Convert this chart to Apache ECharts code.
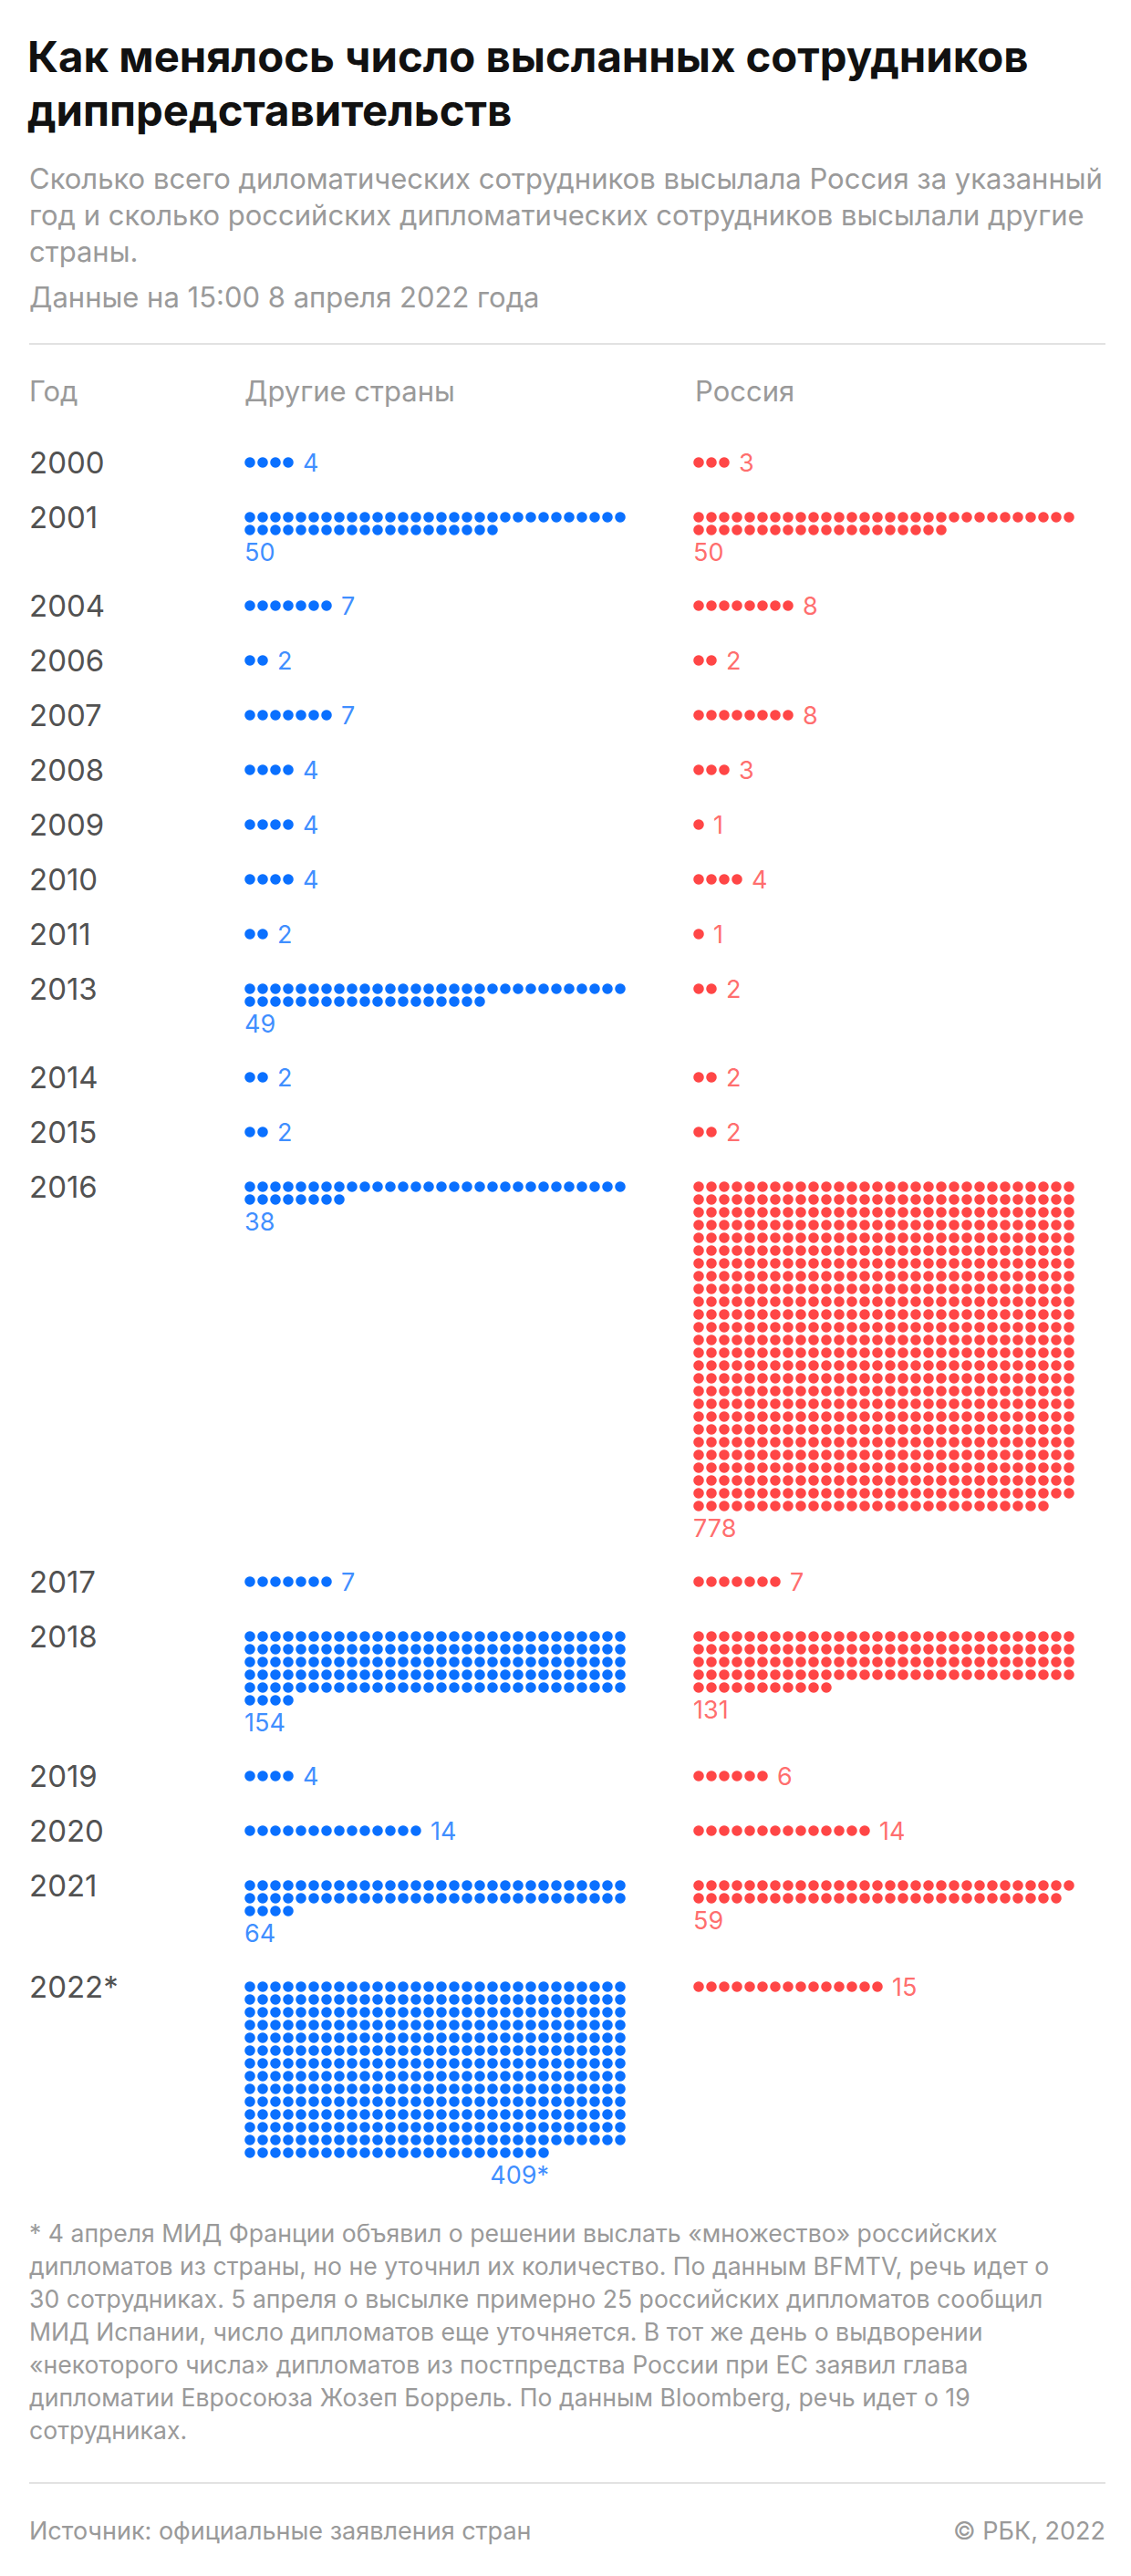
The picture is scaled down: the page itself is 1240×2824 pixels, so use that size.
<!DOCTYPE html>
<html>
<head>
<meta charset="utf-8">
<script src="https://cdn.jsdelivr.net/npm/echarts@6/dist/echarts.min.js"></script>
<style>
html,body{margin:0;padding:0;background:#fff;}
#chart{width:1240px;height:2824px;}
</style>
</head>
<body>
<div id="chart"></div>
<script>
// ---------- data ----------
const years = ['2000','2001','2004','2006','2007','2008','2009','2010','2011','2013','2014','2015','2016','2017','2018','2019','2020','2021','2022*'];
const otherCountries = [4, 50, 7, 2, 7, 4, 4, 4, 2, 49, 2, 2, 38, 7, 154, 4, 14, 64, 409];
// number of dots actually drawn in the reference (2022 shows 13 full rows + 24)
const otherDotCounts = [4, 50, 7, 2, 7, 4, 4, 4, 2, 49, 2, 2, 38, 7, 154, 4, 14, 64, 414];
const otherLabels = ['4','50','7','2','7','4','4','4','2','49','2','2','38','7','154','4','14','64','409*'];
const russia = [3, 50, 8, 2, 8, 3, 1, 4, 1, 2, 2, 2, 778, 7, 131, 6, 14, 59, 15];
const russiaLabels = russia.map(String);

const titleLines = ['Как менялось число высланных сотрудников', 'диппредставительств'];
const subtitleLines = [
  'Сколько всего диломатических сотрудников высылала Россия за указанный',
  'год и сколько российских дипломатических сотрудников высылали другие',
  'страны.'
];
const dateLine = 'Данные на 15:00 8 апреля 2022 года';
const headers = ['Год', 'Другие страны', 'Россия'];
const footnoteLines = [
  '* 4 апреля МИД Франции объявил о решении выслать «множество» российских',
  'дипломатов из страны, но не уточнил их количество. По данным BFMTV, речь идет о',
  '30 сотрудниках. 5 апреля о высылке примерно 25 российских дипломатов сообщил',
  'МИД Испании, число дипломатов еще уточняется. В тот же день о выдворении',
  '«некоторого числа» дипломатов из постпредства России при ЕС заявил глава',
  'дипломатии Евросоюза Жозеп Боррель. По данным Bloomberg, речь идет о 19',
  'сотрудниках.'
];
const sourceText = 'Источник: официальные заявления стран';
const copyrightText = '© РБК, 2022';

// ---------- layout ----------
const W = 1240, H = 2824;
const PER_ROW = 30, ROW_PITCH = 14, BLOCK = 60, LABEL_GAP = 23, FIRST_ROW = 507, LABEL_BELOW = 24.5;
const BLUE = '#0a70ff', RED = '#ff4646', FONT = 'Inter, "Noto Sans", sans-serif';
const GRAY = '#9a9a9a';

const rowsOf = n => Math.ceil(n / PER_ROW);
const rowY = [];
let cur = FIRST_ROW;
years.forEach((y, i) => {
  rowY.push(cur);
  const rows = Math.max(rowsOf(otherDotCounts[i]), rowsOf(russia[i]));
  cur += BLOCK + (rows > 1 ? (rows - 1) * ROW_PITCH + LABEL_GAP : 0);
});

function dots(counts) {
  const out = [];
  counts.forEach((n, i) => {
    for (let k = 0; k < n; k++) out.push([k % PER_ROW, rowY[i] + Math.floor(k / PER_ROW) * ROW_PITCH]);
  });
  return out;
}
function labels(counts, texts) {
  return counts.map((n, i) => {
    const rows = rowsOf(n);
    const lastCol = (n - 1) % PER_ROW;
    if (rows === 1) {
      return { value: [lastCol, rowY[i]], label: { formatter: texts[i], position: 'right', distance: 16 } };
    }
    const yy = rowY[i] + (rows - 1) * ROW_PITCH + LABEL_BELOW;
    if (texts[i].indexOf('*') >= 0) {
      return { value: [lastCol, yy], label: { formatter: texts[i], position: 'inside', align: 'right', offset: [6, 0] } };
    }
    return { value: [0, yy], label: { formatter: texts[i], position: 'inside', align: 'left', offset: [-6, 0] } };
  });
}

const valueLabelStyle = c => ({ show: true, color: c, fontSize: 27, fontFamily: FONT, verticalAlign: 'middle' });

const yAxisBase = { type: 'value', min: 0, max: H, inverse: true, show: false };
const xAxisBase = { type: 'value', min: 0, max: PER_ROW - 1, show: false };

const txt = (text, x, y, size, color, opts) => ({
  type: 'text', silent: true,
  style: Object.assign({ text, x, y, fill: color, fontSize: size, fontFamily: FONT, verticalAlign: 'middle', align: 'left' }, opts || {})
});

const graphic = [];
titleLines.forEach((t, i) => graphic.push(txt(t, 30, 61 + i * 59, 47.3, '#111', { fontWeight: 'bold' })));
subtitleLines.forEach((t, i) => graphic.push(txt(t, 32, 195 + i * 40, 31, GRAY)));
graphic.push(txt(dateLine, 32, 325, 31, GRAY));
graphic.push({ type: 'line', silent: true, shape: { x1: 32, y1: 377, x2: 1212, y2: 377 }, style: { stroke: '#e2e2e2', lineWidth: 2 } });
graphic.push(txt(headers[0], 32, 428, 31, GRAY));
graphic.push(txt(headers[1], 268, 428, 31, GRAY));
graphic.push(txt(headers[2], 762, 428, 31, GRAY));
footnoteLines.forEach((t, i) => graphic.push(txt(t, 32, 2448 + i * 36, 26.6, GRAY)));
graphic.push({ type: 'line', silent: true, shape: { x1: 32, y1: 2722, x2: 1212, y2: 2722 }, style: { stroke: '#e2e2e2', lineWidth: 2 } });
graphic.push(txt(sourceText, 32, 2774, 27, GRAY));
graphic.push(txt(copyrightText, 1212, 2774, 27, GRAY, { align: 'right' }));

const chart = echarts.init(document.getElementById('chart'), null, { renderer: 'svg', width: W, height: H });
chart.setOption({
  backgroundColor: '#fff',
  animation: false,
  grid: [
    { left: 274, width: (PER_ROW - 1) * ROW_PITCH, top: 0, height: H },
    { left: 766, width: (PER_ROW - 1) * ROW_PITCH, top: 0, height: H },
    { left: 32, width: 100, top: 0, height: H }
  ],
  xAxis: [
    Object.assign({ gridIndex: 0 }, xAxisBase),
    Object.assign({ gridIndex: 1 }, xAxisBase),
    { gridIndex: 2, type: 'value', min: 0, max: 1, show: false }
  ],
  yAxis: [
    Object.assign({ gridIndex: 0 }, yAxisBase),
    Object.assign({ gridIndex: 1 }, yAxisBase),
    Object.assign({ gridIndex: 2 }, yAxisBase)
  ],
  series: [
    { type: 'scatter', xAxisIndex: 0, yAxisIndex: 0, symbol: 'circle', symbolSize: 11.5, itemStyle: { color: BLUE, opacity: 1 }, data: dots(otherDotCounts), clip: false, silent: true },
    { type: 'scatter', xAxisIndex: 1, yAxisIndex: 1, symbol: 'circle', symbolSize: 11.5, itemStyle: { color: RED, opacity: 1 }, data: dots(russia), clip: false, silent: true },
    { type: 'scatter', xAxisIndex: 0, yAxisIndex: 0, symbolSize: 0, label: valueLabelStyle(BLUE), data: labels(otherDotCounts, otherLabels), clip: false, silent: true },
    { type: 'scatter', xAxisIndex: 1, yAxisIndex: 1, symbolSize: 0, label: valueLabelStyle(RED), data: labels(russia, russiaLabels), clip: false, silent: true },
    { type: 'scatter', xAxisIndex: 2, yAxisIndex: 2, symbolSize: 0, clip: false, silent: true,
      label: { show: true, position: 'inside', align: 'left', verticalAlign: 'middle', color: '#222', fontSize: 33, fontFamily: FONT, formatter: p => p.data.name },
      data: years.map((y, i) => ({ name: y, value: [0, rowY[i]] })) }
  ],
  graphic: graphic
});
</script>
</body>
</html>
